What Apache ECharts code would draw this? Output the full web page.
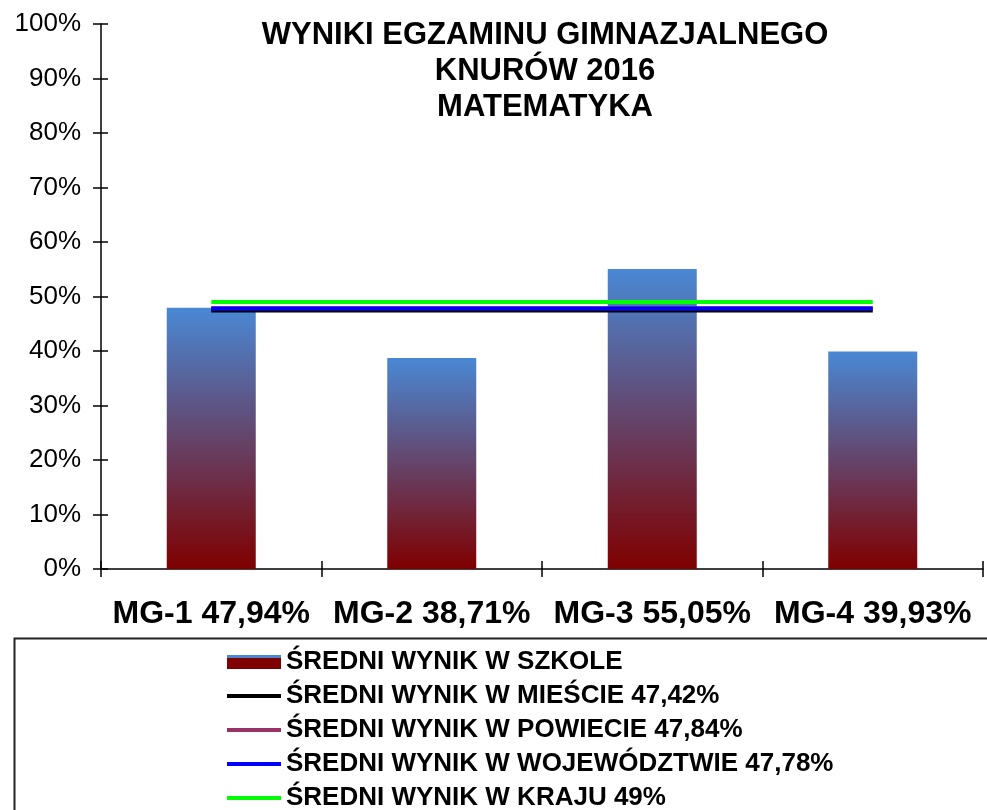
<!DOCTYPE html>
<html>
<head>
<meta charset="utf-8">
<script src="https://cdn.jsdelivr.net/npm/echarts@6/dist/echarts.min.js"></script>
<style>
  html, body { margin: 0; padding: 0; background: #fff; }
  #chart { width: 987px; height: 810px; }
</style>
</head>
<body>
<div id="chart"></div>
<script>
// tests and school results (%)
var tests = ['MG-1', 'MG-2', 'MG-3', 'MG-4'];
var schoolAvg = [47.94, 38.71, 55.05, 39.93];
// reference averages, one value per test
var cityAvg = [47.42, 47.42, 47.42, 47.42];
var countyAvg = [47.84, 47.84, 47.84, 47.84];
var voivodeshipAvg = [47.78, 47.78, 47.78, 47.78];
var countryAvg = [49, 49, 49, 49];

var FONT = '"Liberation Sans", Arial, sans-serif';
var LINE_ICON = 'path://M0,0H54V4H0Z';

function pl(v) {
    return String(v).replace('.', ',');
}

var catLabels = tests.map(function (t, i) {
    return t + ' ' + pl(schoolAvg[i].toFixed(2)) + '%';
});

var names = {
    school: 'ŚREDNI WYNIK W SZKOLE',
    city: 'ŚREDNI WYNIK W MIEŚCIE ' + pl(cityAvg[0].toFixed(2)) + '%',
    county: 'ŚREDNI WYNIK W POWIECIE ' + pl(countyAvg[0].toFixed(2)) + '%',
    voiv: 'ŚREDNI WYNIK W WOJEWÓDZTWIE ' + pl(voivodeshipAvg[0].toFixed(2)) + '%',
    country: 'ŚREDNI WYNIK W KRAJU ' + pl(countryAvg[0]) + '%'
};

var chart = echarts.init(document.getElementById('chart'));

var barGradient = new echarts.graphic.LinearGradient(0, 0, 0, 1, [
    { offset: 0, color: '#4a88d4' },
    { offset: 1, color: '#7f0000' }
]);
var legendBarFill = new echarts.graphic.LinearGradient(0, 0, 0, 1, [
    { offset: 0, color: '#4a88d4' },
    { offset: 0.2, color: '#4a88d4' },
    { offset: 0.2, color: '#7f0000' },
    { offset: 1, color: '#7f0000' }
]);

function lineSeries(name, data, color, z) {
    return {
        name: name,
        type: 'line',
        data: data,
        symbol: 'none',
        showSymbol: false,
        z: z,
        lineStyle: { color: color, width: 4 },
        itemStyle: { color: color }
    };
}

var tickStyle = { color: '#000', width: 1.5 };
var axisLineStyle = { show: true, lineStyle: { color: '#000', width: 1.5 } };

var yAxisBase = {
    type: 'value',
    min: 0,
    max: 100,
    interval: 10,
    position: 'left',
    splitLine: { show: false }
};

var option = {
    backgroundColor: '#fff',
    animation: false,
    textStyle: { fontFamily: FONT },
    title: {
        text: 'WYNIKI EGZAMINU GIMNAZJALNEGO\nKNURÓW 2016\nMATEMATYKA',
        left: 540,
        top: 12,
        textAlign: 'center',
        textStyle: {
            fontFamily: FONT,
            fontSize: 31,
            fontWeight: 'bold',
            color: '#000',
            lineHeight: 36
        }
    },
    grid: { left: 101, right: 4, top: 24, bottom: 241, containLabel: false },
    legend: {
        orient: 'vertical',
        left: 222,
        top: 644,
        height: 170,
        itemWidth: 54,
        itemHeight: 14,
        itemGap: 8,
        textStyle: { fontFamily: FONT, fontSize: 26, fontWeight: 'bold', color: '#000', lineHeight: 24 },
        data: [
            { name: names.school, icon: 'rect', itemStyle: { color: legendBarFill } },
            { name: names.city, icon: LINE_ICON },
            { name: names.county, icon: LINE_ICON },
            { name: names.voiv, icon: LINE_ICON },
            { name: names.country, icon: LINE_ICON }
        ]
    },
    graphic: [{
        type: 'rect',
        left: 12,
        top: 636,
        shape: { width: 1000, height: 200 },
        style: { fill: 'none', stroke: '#222', lineWidth: 2 },
        silent: true
    }],
    xAxis: [{
        type: 'category',
        data: catLabels,
        position: 'bottom',
        boundaryGap: true,
        axisLine: axisLineStyle,
        axisTick: { show: false },
        axisLabel: {
            margin: 30,
            fontFamily: FONT,
            fontSize: 32,
            fontWeight: 'bold',
            color: '#000',
            lineHeight: 31,
            interval: 0
        }
    }, {
        // crossing tick marks
        type: 'category',
        data: catLabels,
        position: 'bottom',
        offset: -8,
        boundaryGap: true,
        axisLine: { show: false, onZero: false },
        axisTick: { show: true, length: 16, lineStyle: tickStyle },
        axisLabel: { show: false }
    }],
    yAxis: [Object.assign({}, yAxisBase, {
        axisLine: axisLineStyle,
        axisTick: { show: false },
        axisLabel: {
            margin: 20,
            fontFamily: FONT,
            fontSize: 26,
            color: '#000',
            formatter: '{value}%'
        }
    }), Object.assign({}, yAxisBase, {
        // crossing tick marks
        offset: -7,
        axisLine: { show: false, onZero: false },
        axisTick: { show: true, length: 15, lineStyle: tickStyle },
        axisLabel: { show: false }
    })],
    series: [
        {
            name: names.school,
            type: 'bar',
            data: schoolAvg,
            barWidth: 89,
            z: 1,
            itemStyle: { color: barGradient }
        },
        lineSeries(names.city, cityAvg, '#000000', 2),
        lineSeries(names.county, countyAvg, '#993366', 3),
        lineSeries(names.voiv, voivodeshipAvg, '#0000ff', 4),
        lineSeries(names.country, countryAvg, '#00ff00', 5)
    ]
};

chart.setOption(option);
</script>
</body>
</html>
